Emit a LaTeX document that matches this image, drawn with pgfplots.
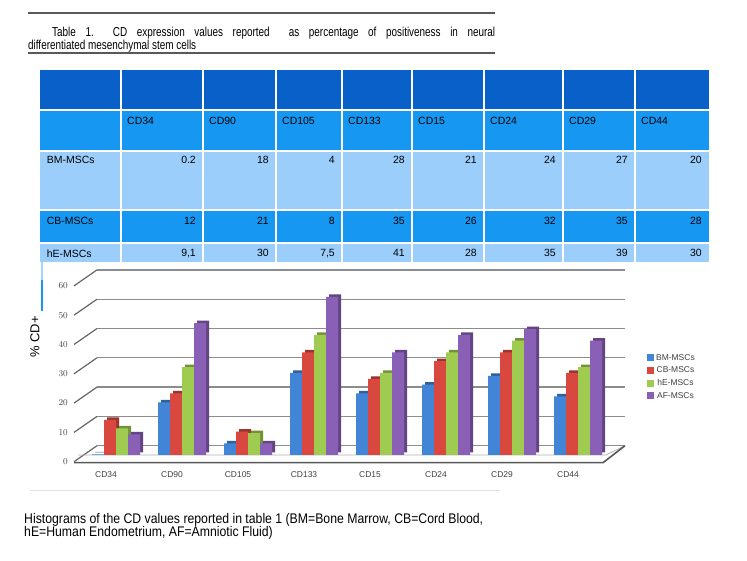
\documentclass[border=0pt]{standalone}
\usepackage{pgfplots}
\pgfplotsset{compat=1.18}
\usepackage{fontspec}
\setmainfont{Liberation Sans}
\usepackage{graphicx}
\definecolor{tdark}{RGB}{8,96,200}
\definecolor{tmed}{RGB}{22,152,242}
\definecolor{tlight}{RGB}{156,206,252}
\definecolor{cBM}{RGB}{66,133,214}
\definecolor{cCB}{RGB}{217,72,62}
\definecolor{cHE}{RGB}{158,203,80}
\definecolor{cAF}{RGB}{138,96,182}
\newlength\capw
\newlength\titw
\begin{document}
\settowidth\titw{\fontsize{13}{15}\selectfont differentiated mesenchymal stem cells}%
\pgfmathsetmacro\titS{168.63/\titw}%
\pgfmathsetlengthmacro\titone{444.66/\titS}%
\settowidth\capw{\fontsize{14}{16}\selectfont Histograms of the CD values reported in table 1 (BM=Bone Marrow, CB=Cord Blood,}%
\pgfmathsetmacro\capS{460.72/\capw}%
\begin{tikzpicture}[x=1bp,y=1bp]
\useasboundingbox (0,0) rectangle (747,561);
\fill[white] (0,0) rectangle (747,561);
% ---------- title ----------
\draw[line width=2bp, black!65] (28,548) -- (495,548);
\draw[line width=2bp, black!65] (28,508) -- (495,508);
\node[anchor=base west, inner sep=0pt] at (52,524) {\scalebox{\titS}[1]{\fontsize{13}{15}\selectfont\makebox[\titone][s]{Table 1.\ \ CD expression values reported\ \ as percentage of positiveness in neural}}};
\node[anchor=base west, inner sep=0pt] at (28,511.5) {\scalebox{\titS}[1]{\fontsize{13}{15}\selectfont differentiated mesenchymal stem cells}};
% ---------- table ----------
\fill[tdark] (40,451) rectangle (709,491);
\fill[tmed] (40,410) rectangle (709,451);
\fill[tlight] (40,351) rectangle (709,410);
\fill[tmed] (40,318) rectangle (709,351);
\fill[tlight] (40,298.5) rectangle (709,318);
\foreach \x in {121,203,276,342,412,484,563,635} \draw[white, line width=1.5bp] (\x,298.5) -- (\x,491);
\foreach \y in {451,410,351,318} \draw[white, line width=1.5bp] (40,\y) -- (709,\y);
\begin{scope}[every node/.style={inner sep=0pt, font=\fontsize{10.5}{12}\selectfont}]
\foreach \t/\l in {CD34/121,CD90/203,CD105/276,CD133/342,CD15/412,CD24/484,CD29/563,CD44/635}
  \node[anchor=west] at (\l+6,440.3) {\t};
\node[anchor=west] at (46.7,401) {BM-MSCs};
\node[anchor=west] at (46.7,340.3) {CB-MSCs};
\node[anchor=west] at (46.7,307.7) {hE-MSCs};
\foreach \v/\r in {0.2/203,18/276,4/342,28/412,21/484,24/563,27/635,20/709}
  \node[anchor=east] at (\r-7,401) {\v};
\foreach \v/\r in {12/203,21/276,8/342,35/412,26/484,32/563,35/635,28/709}
  \node[anchor=east] at (\r-7,340.3) {\v};
\foreach \v/\r in {{9,1}/203,30/276,{7,5}/342,41/412,28/484,35/563,39/635,30/709}
  \node[anchor=east] at (\r-7,307.7) {\v};
\end{scope}
% small blue frame mark
\draw[line width=1.5bp, tmed!40] (42,298.5) -- (42,281);
\draw[line width=2bp, tmed] (42,281) -- (42,250);
% ---------- chart: back wall grid ----------
\begin{axis}[at={(97bp,115.3bp)}, anchor=south west, scale only axis,
  width=528bp, height=175.8bp, xmin=0, xmax=1, ymin=0, ymax=60,
  ytick={0,10,...,60}, xtick=\empty, yticklabels={}, ymajorgrids,
  grid style={draw=black!45, line width=1.3bp},
  axis line style={draw=none}, tick style={draw=none}]
\addplot[draw=none] coordinates {(0,0)};
\end{axis}
\foreach \k in {0,...,6} \draw[black!60, line width=1.2bp] (74,{99.3+29.3*\k}) -- (97,{115.3+29.3*\k});
\draw[black!30, line width=0.8bp] (78,106) -- (606,106) -- (625,115.3);
\draw[black!65, line width=1.6bp] (74,98.3) -- (603,98.3) -- (625,115.3);
% ---------- chart: bars ----------
\begin{axis}[at={(50bp,106bp)}, anchor=south west, scale only axis,
  width=594bp, height=175.8bp, xmin=-1, xmax=8, ymin=0, ymax=60, clip=false,
  axis line style={draw=none}, tick style={draw=none},
  ytick={0,10,...,60}, xtick={0,...,7},
  xticklabels={CD34,CD90,CD105,CD133,CD15,CD24,CD29,CD44},
  yticklabel style={anchor=east, inner sep=0pt, xshift=18bp, yshift=-6.7bp, font=\fontsize{9}{10}\selectfont, text=black!75},
  xticklabel style={anchor=north, inner sep=0pt, xshift=-10bp, yshift=-16.5bp, font=\fontsize{8.5}{10}\selectfont, text=black!75},
  bar width=12bp,
  legend style={at={(1.005,0.586)}, anchor=north west, draw=none, fill=none,
    font=\fontsize{8.5}{10}\selectfont, text=black!75, row sep=1.2bp, inner sep=0pt,
    /tikz/every even column/.append style={column sep=2bp}},
  legend image code/.code={\fill[#1] (0bp,-3.5bp) rectangle (7bp,3.5bp);},
]
\addplot[ybar, bar shift=-18bp, fill=cBM!72!black, draw=none, xshift=3bp, yshift=2.5bp, forget plot] coordinates {(0,0.2)(1,18)(2,4)(3,28)(4,21)(5,24)(6,27)(7,20)};
\addplot[ybar, bar shift=-6bp, fill=cCB!72!black, draw=none, xshift=3bp, yshift=2.5bp, forget plot] coordinates {(0,12)(1,21)(2,8)(3,35)(4,26)(5,32)(6,35)(7,28)};
\addplot[ybar, bar shift=6bp, fill=cHE!72!black, draw=none, xshift=3bp, yshift=2.5bp, forget plot] coordinates {(0,9.1)(1,30)(2,7.5)(3,41)(4,28)(5,35)(6,39)(7,30)};
\addplot[ybar, bar shift=18bp, fill=cAF!72!black, draw=none, xshift=3bp, yshift=2.5bp, forget plot] coordinates {(0,7)(1,45)(2,4)(3,54)(4,35)(5,41)(6,43)(7,39)};
\addplot[ybar, bar shift=-18bp, fill=cBM, draw=none] coordinates {(0,0.2)(1,18)(2,4)(3,28)(4,21)(5,24)(6,27)(7,20)};
\addlegendentry{BM-MSCs}
\addplot[ybar, bar shift=-6bp, fill=cCB, draw=none] coordinates {(0,12)(1,21)(2,8)(3,35)(4,26)(5,32)(6,35)(7,28)};
\addlegendentry{CB-MSCs}
\addplot[ybar, bar shift=6bp, fill=cHE, draw=none] coordinates {(0,9.1)(1,30)(2,7.5)(3,41)(4,28)(5,35)(6,39)(7,30)};
\addlegendentry{hE-MSCs}
\addplot[ybar, bar shift=18bp, fill=cAF, draw=none] coordinates {(0,7)(1,45)(2,4)(3,54)(4,35)(5,41)(6,43)(7,39)};
\addlegendentry{AF-MSCs}
\end{axis}
\node[rotate=90, font=\fontsize{13}{15}\selectfont] at (35,224) {\% CD+};
% ---------- caption ----------
\draw[black!12, line width=0.8bp] (30,71) -- (500,71);
\node[anchor=base west, inner sep=0pt] at (24,37.5) {\scalebox{\capS}[1]{\fontsize{14}{16}\selectfont Histograms of the CD values reported in table 1 (BM=Bone Marrow, CB=Cord Blood,}};
\node[anchor=base west, inner sep=0pt] at (24,24) {\scalebox{\capS}[1]{\fontsize{14}{16}\selectfont hE=Human Endometrium, AF=Amniotic Fluid)}};
\end{tikzpicture}
\end{document}
